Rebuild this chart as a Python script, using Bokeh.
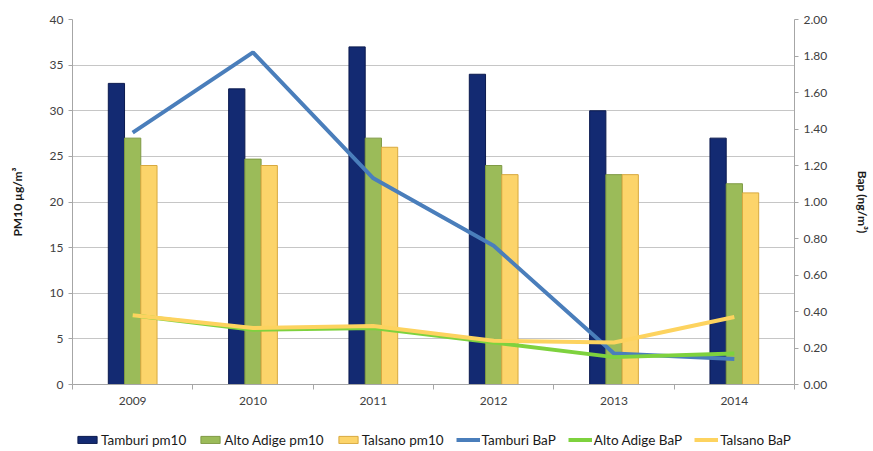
from bokeh.plotting import figure
from bokeh.layouts import column
from bokeh.models import (ColumnDataSource, Range1d, LinearAxis, FixedTicker,
                          SingleIntervalTicker, NumeralTickFormatter, Legend, LegendItem)
from bokeh.transform import dodge
from bokeh.embed import file_html
from bokeh.resources import INLINE

# --- data -------------------------------------------------------------
years = ["2009", "2010", "2011", "2012", "2013", "2014"]

tamburi_pm10 = [33.0, 32.4, 37.0, 34.0, 30.0, 27.0]
alto_adige_pm10 = [27.0, 24.7, 27.0, 24.0, 23.0, 22.0]
talsano_pm10 = [24.0, 24.0, 26.0, 23.0, 23.0, 21.0]

tamburi_bap = [1.38, 1.82, 1.13, 0.76, 0.17, 0.14]
alto_adige_bap = [0.38, 0.30, 0.31, 0.23, 0.15, 0.17]
talsano_bap = [0.38, 0.31, 0.32, 0.24, 0.23, 0.37]

bap_ticks = [0.0, 0.2, 0.4, 0.6, 0.8, 1.0, 1.2, 1.4, 1.6, 1.8, 2.0]

series_labels = ["Tamburi pm10", "Alto Adige pm10", "Talsano pm10",
                 "Tamburi BaP", "Alto Adige BaP", "Talsano BaP"]

# --- styling ----------------------------------------------------------
FONT = "Lato"
TXT = "#404040"
BAR_STYLES = [("#132a72", "#0b1a4e"), ("#9bbb59", "#7f9a45"), ("#fcd46a", "#d8a93f")]
LINE_COLORS = ["#4a7ebb", "#7ed23e", "#fdd35f"]

xpos = [i + 0.5 for i in range(len(years))]
src = ColumnDataSource(dict(
    x=xpos, tam=tamburi_pm10, alto=alto_adige_pm10, tal=talsano_pm10,
    tam_b=tamburi_bap, alto_b=alto_adige_bap, tal_b=talsano_bap,
))

p = figure(width=873, height=428, x_range=Range1d(0, len(years)),
           y_range=Range1d(0, 40), output_backend="svg", toolbar_location=None,
           min_border_left=72, min_border_right=71, min_border_top=19,
           min_border_bottom=44)
p.extra_y_ranges = {"bap": Range1d(0, 2)}
p.outline_line_color = None
p.background_fill_color = "white"

bw = 0.135
for col, off, (fc, lc) in zip(["tam", "alto", "tal"], [-bw, 0, bw], BAR_STYLES):
    p.vbar(x=dodge("x", off, range=p.x_range), top=col, width=bw, source=src,
           fill_color=fc, line_color=lc, line_width=1)

for col, c in zip(["tam_b", "alto_b", "tal_b"], LINE_COLORS):
    p.line("x", col, source=src, y_range_name="bap", line_color=c, line_width=4)

# --- axes -------------------------------------------------------------
xa = p.xaxis[0]
xa.ticker = FixedTicker(ticks=xpos, minor_ticks=list(range(len(years) + 1)))
xa.major_label_overrides = {x: y for x, y in zip(xpos, years)}
xa.major_tick_line_color = None
xa.minor_tick_out = 5
xa.minor_tick_in = 0
xa.minor_tick_line_color = "#a6a6a6"
xa.axis_line_color = "#a6a6a6"
xa.major_label_standoff = 6

ya = p.yaxis[0]
ya.ticker = SingleIntervalTicker(interval=5)
ya.minor_tick_line_color = None
ya.major_tick_out = 4
ya.major_tick_in = 0
ya.axis_line_color = "#a6a6a6"
ya.major_tick_line_color = "#a6a6a6"
ya.axis_label = "PM10 µg/m³"
ya.axis_label_standoff = 22

ra = LinearAxis(y_range_name="bap", ticker=FixedTicker(ticks=bap_ticks),
                formatter=NumeralTickFormatter(format="0.00"))
ra.minor_tick_line_color = None
ra.major_tick_out = 4
ra.major_tick_in = 0
ra.axis_line_color = "#a6a6a6"
ra.major_tick_line_color = "#a6a6a6"
ra.axis_label = "Bap (ng/m³)"
ra.axis_label_standoff = 25
p.add_layout(ra, "right")

for ax in (xa, ya, ra):
    ax.major_label_text_font = FONT
    ax.major_label_text_font_size = "12px"
    ax.major_label_text_color = TXT
    ax.axis_label_text_font = FONT
    ax.axis_label_text_font_size = "12px"
    ax.axis_label_text_font_style = "bold"
    ax.axis_label_text_color = "#1a1a1a"

p.xgrid.grid_line_color = None
p.ygrid.ticker = SingleIntervalTicker(interval=5)
p.ygrid.grid_line_color = "#c6c6c6"

# --- legend strip under the chart -------------------------------------
lp = figure(width=873, height=23, x_range=Range1d(0, 1), y_range=Range1d(0, 1),
            output_backend="svg", toolbar_location=None,
            x_axis_location=None, y_axis_location=None,
            min_border_left=0, min_border_right=0, min_border_top=0,
            min_border_bottom=0)
lp.grid.visible = False
lp.outline_line_color = None

# swatch renderers sit outside the visible range; they only feed the legend
off_screen = ColumnDataSource(dict(x=[-10, -9], y=[-10, -9]))
swatches = []
for fc, lc in BAR_STYLES:
    swatches.append(lp.vbar(x="x", top="y", width=0.1, source=off_screen,
                            fill_color=fc, line_color=lc, line_width=1))
for c in LINE_COLORS:
    swatches.append(lp.line("x", "y", source=off_screen, line_color=c, line_width=4))

legend = Legend(items=[LegendItem(label=lab, renderers=[r])
                       for lab, r in zip(series_labels, swatches)],
                orientation="horizontal", location="center")
legend.label_text_font = FONT
legend.label_text_font_size = "13.5px"
legend.label_text_color = "#1a1a1a"
legend.glyph_width = 24
legend.glyph_height = 9
legend.label_standoff = 2
legend.spacing = 12
legend.padding = 2
legend.margin = 0
legend.border_line_color = None
legend.background_fill_alpha = 0
lp.add_layout(legend)

open("out.html", "w").write(file_html(column(p, lp), INLINE))
